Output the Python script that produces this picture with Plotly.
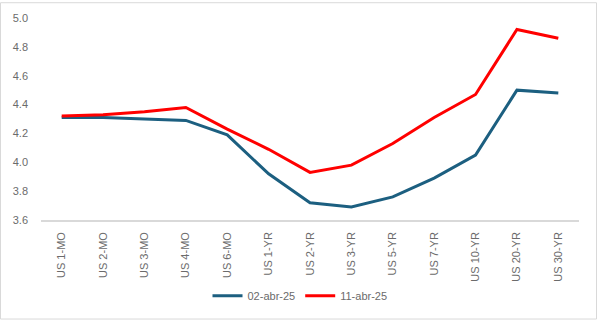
import plotly.graph_objects as go

categories = ["US 1-MO", "US 2-MO", "US 3-MO", "US 4-MO", "US 6-MO", "US 1-YR", "US 2-YR",
              "US 3-YR", "US 5-YR", "US 7-YR", "US 10-YR", "US 20-YR", "US 30-YR"]
s1_name = "02-abr-25"
s1 = [4.31, 4.31, 4.30, 4.29, 4.19, 3.92, 3.72, 3.69, 3.76, 3.89, 4.05, 4.50, 4.48]
s2_name = "11-abr-25"
s2 = [4.32, 4.33, 4.35, 4.38, 4.23, 4.09, 3.93, 3.98, 4.13, 4.31, 4.47, 4.92, 4.86]
yticks = [3.6, 3.8, 4.0, 4.2, 4.4, 4.6, 4.8, 5.0]

W, H = 597, 322
L, R, T, B = 41, 18, 16, 101
pw, ph = W - L - R, H - T - B

font = "Liberation Sans Narrow, Liberation Sans, Arial"
txt = "#6B6B6B"

fig = go.Figure()
fig.add_trace(go.Scatter(x=categories, y=s1, name=s1_name, mode="lines",
                         line=dict(color="#1C5F80", width=3)))
fig.add_trace(go.Scatter(x=categories, y=s2, name=s2_name, mode="lines",
                         line=dict(color="#FF0000", width=3)))

fig.update_layout(
    width=W, height=H,
    margin=dict(l=L, r=R, t=T, b=B),
    paper_bgcolor="white", plot_bgcolor="white",
    font=dict(family=font, size=11, color=txt),
    showlegend=True,
    legend=dict(orientation="h", x=0.5 - 10 / pw, xanchor="center", y=(T + ph - 298) / ph,
                yanchor="middle", font=dict(size=11, color=txt), itemwidth=30, tracegroupgap=0),
    xaxis=dict(type="category", range=[-0.5, len(categories) - 0.5], tickangle=-90,
               showgrid=False, showline=True, linecolor="#D9D9D9", linewidth=1.5,
               ticks="", ticklabelstandoff=6, tickfont=dict(size=11, color=txt),
               zeroline=False),
    yaxis=dict(range=[3.6, 5.0], tickvals=yticks, ticktext=[f"{v:.1f}" for v in yticks],
               showgrid=False, showline=False, zeroline=False, ticks="",
               ticklabelstandoff=12, tickfont=dict(size=11, color=txt)),
)

# chart border
fig.add_shape(type="rect", xref="paper", yref="paper",
              x0=(0.5 - L) / pw, x1=(W - 0.5 - L) / pw,
              y0=(T + ph - (H - 0.5)) / ph, y1=(T + ph - 0.5) / ph,
              line=dict(color="#D9D9D9", width=1), layer="below")

fig.write_html("out.html")
